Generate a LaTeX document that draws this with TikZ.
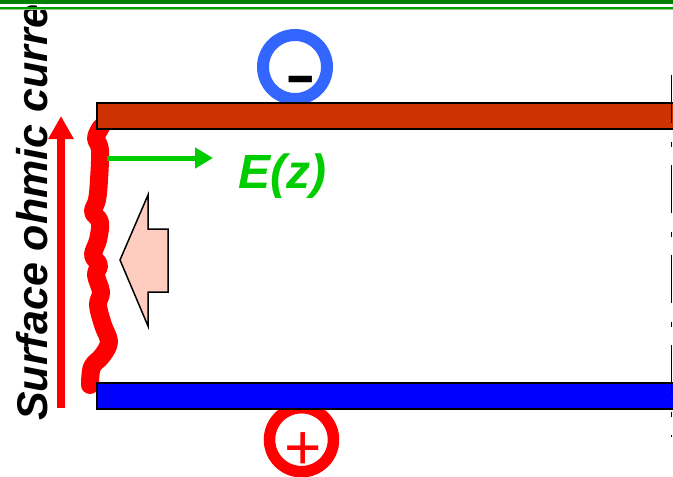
\documentclass[tikz,border=0pt]{standalone}
\usepackage{fontspec}
\setmainfont{Liberation Sans}
\usetikzlibrary{arrows.meta, positioning}

\definecolor{platered}{HTML}{CC3300}
\definecolor{plateblue}{HTML}{0000FF}
\definecolor{ringblue}{HTML}{3366FF}
\definecolor{efield}{HTML}{00CC00}
\definecolor{pinkfill}{HTML}{FFCCC0}
\definecolor{banddark}{HTML}{008000}
\definecolor{bandmid}{HTML}{00A000}
\definecolor{bandlight}{HTML}{88CC88}

\begin{document}
\begin{tikzpicture}[
    x=1pt, y={(0pt,-1pt)},
    plate/.style={draw, line width=2pt, anchor=north west, minimum width=620pt,
                  minimum height=26pt, inner sep=0pt},
    ring/.style={circle, minimum size=64pt, inner sep=0pt},
    sign/.style={anchor=base, inner sep=0pt},
    arr/.style={-{Triangle[length=18pt, width=20pt]}, line width=5pt},
  ]
  \clip (0,0) rectangle (673,477);
  \fill[white] (0,0) rectangle (673,477);

  % charges behind the plates
  \node[ring, draw=ringblue, line width=12pt] (neg) at (295,67) {};
  \node[sign, font=\fontsize{54}{54}\selectfont\bfseries] (negsign) at (301,93.5)
    {\scalebox{1.7}[1]{-}};
  \node[ring, draw=red, line width=11.5pt] (pos) at (301.5,439.7) {};
  \node[sign, font=\fontsize{64}{64}\selectfont, text=red] (possign) at (303,469) {+};

  % wall current
  \draw[red, line width=18pt, line cap=round, line join=round]
    plot[smooth, tension=0.6] coordinates {(101,127) (96,138) (100,150) (99,180)
      (97,200) (93,212) (100,222) (98,240) (93,255) (99,265) (96,275)
      (101,292) (98,305) (103,325) (109,342) (102,356) (92,367) (90,385)};

  % plates
  \node[plate, fill=platered] (topplate) at (96,102) {};
  \node[plate, fill=plateblue] (botplate) at (96,382) {};

  % axis
  \coordinate (axtop) at (671.5,75);
  \coordinate (axbot) at (671.5,437);
  \draw[line width=1.5pt, dash pattern=on 48pt off 19pt on 5pt off 18pt] (axtop) -- (axbot);

  % current arrow and label
  \coordinate (jbot) at (61,408);
  \coordinate (jtop) at (61,116);
  \draw[red, line width=8pt, -{Triangle[length=23pt, width=24pt]}] (jbot) -- (jtop);
  \node[font=\fontsize{43}{43}\selectfont\bfseries\itshape, rotate=90,
        anchor=base west, inner sep=0pt] (current) at (47,421) {Surface ohmic current};

  % field
  \coordinate (estart) at (107,158);
  \coordinate (eend) at (213,158);
  \draw[arr, efield] (estart) -- (eend);
  \node[font=\fontsize{48}{48}\selectfont\bfseries\itshape, text=efield,
        anchor=base west, inner sep=0pt] (elbl) at (238,188) {E(z)};

  % block arrow
  \draw[fill=pinkfill, line width=1.5pt, line join=miter]
    (120,260) -- (148,195) -- (148,229) -- (168,229) -- (168,292)
    -- (148,292) -- (148,326) -- cycle;

  % header lines
  \fill[banddark] (0,0) rectangle (673,4);
  \fill[bandmid] (0,6.7) rectangle (673,8.7);
  \fill[bandlight] (0,8.7) rectangle (673,10);
\end{tikzpicture}
\end{document}
